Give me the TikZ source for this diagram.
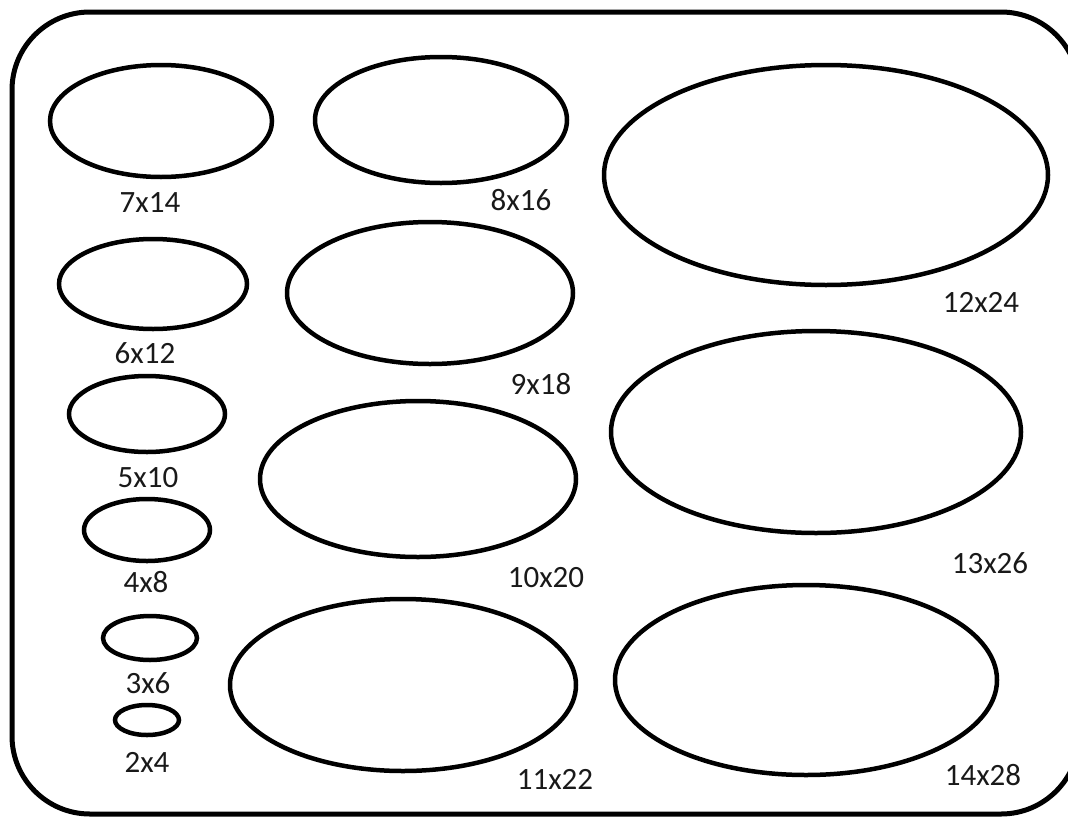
\documentclass[tikz,border=0pt]{standalone}
\usepackage{fontspec}
\setmainfont{Carlito}
\begin{document}
\begin{tikzpicture}[x=1pt,y=-1pt,
  hole/.style={line width=4.5pt},
  frame/.style={line width=5pt, rounded corners=78pt},
  lbl/.style={inner sep=0pt, text=black!90, font=\fontsize{31}{36}\selectfont}]
\useasboundingbox (0,0) rectangle (1068,817);
\clip (0,0) rectangle (1068,817);
\draw[frame] (12,12) rectangle (1079,814);
% left column
\draw[hole] (161,121) ellipse [x radius=111, y radius=56];
\draw[hole] (153,284) ellipse [x radius=94, y radius=45];
\draw[hole] (147,414) ellipse [x radius=78, y radius=38];
\draw[hole] (147,530) ellipse [x radius=63, y radius=31];
\draw[hole] (150,638) ellipse [x radius=47, y radius=22];
\draw[hole] (147,720) ellipse [x radius=32, y radius=15];
% middle column
\draw[hole] (441,120) ellipse [x radius=126, y radius=63];
\draw[hole] (430,293) ellipse [x radius=143, y radius=71];
\draw[hole] (418,479) ellipse [x radius=158, y radius=78];
\draw[hole] (403,685) ellipse [x radius=173, y radius=86];
% right column
\draw[hole] (826,175) ellipse [x radius=222, y radius=110];
\draw[hole] (816,432) ellipse [x radius=205, y radius=101];
\draw[hole] (806,680) ellipse [x radius=191, y radius=95];
% labels
\node[lbl] (l7)  at (150,203) {7x14};
\node[lbl] (l6)  at (145,353) {6x12};
\node[lbl] (l5)  at (148,478) {5x10};
\node[lbl] (l4)  at (146,582) {4x8};
\node[lbl] (l3)  at (148,683) {3x6};
\node[lbl] (l2)  at (147,762) {2x4};
\node[lbl] (l8)  at (521,200) {8x16};
\node[lbl] (l9)  at (541,384) {9x18};
\node[lbl] (l10) at (546,578) {10x20};
\node[lbl] (l11) at (555,779) {11x22};
\node[lbl] (l12) at (981,302) {12x24};
\node[lbl] (l13) at (990,563) {13x26};
\node[lbl] (l14) at (983,775) {14x28};
\end{tikzpicture}
\end{document}
